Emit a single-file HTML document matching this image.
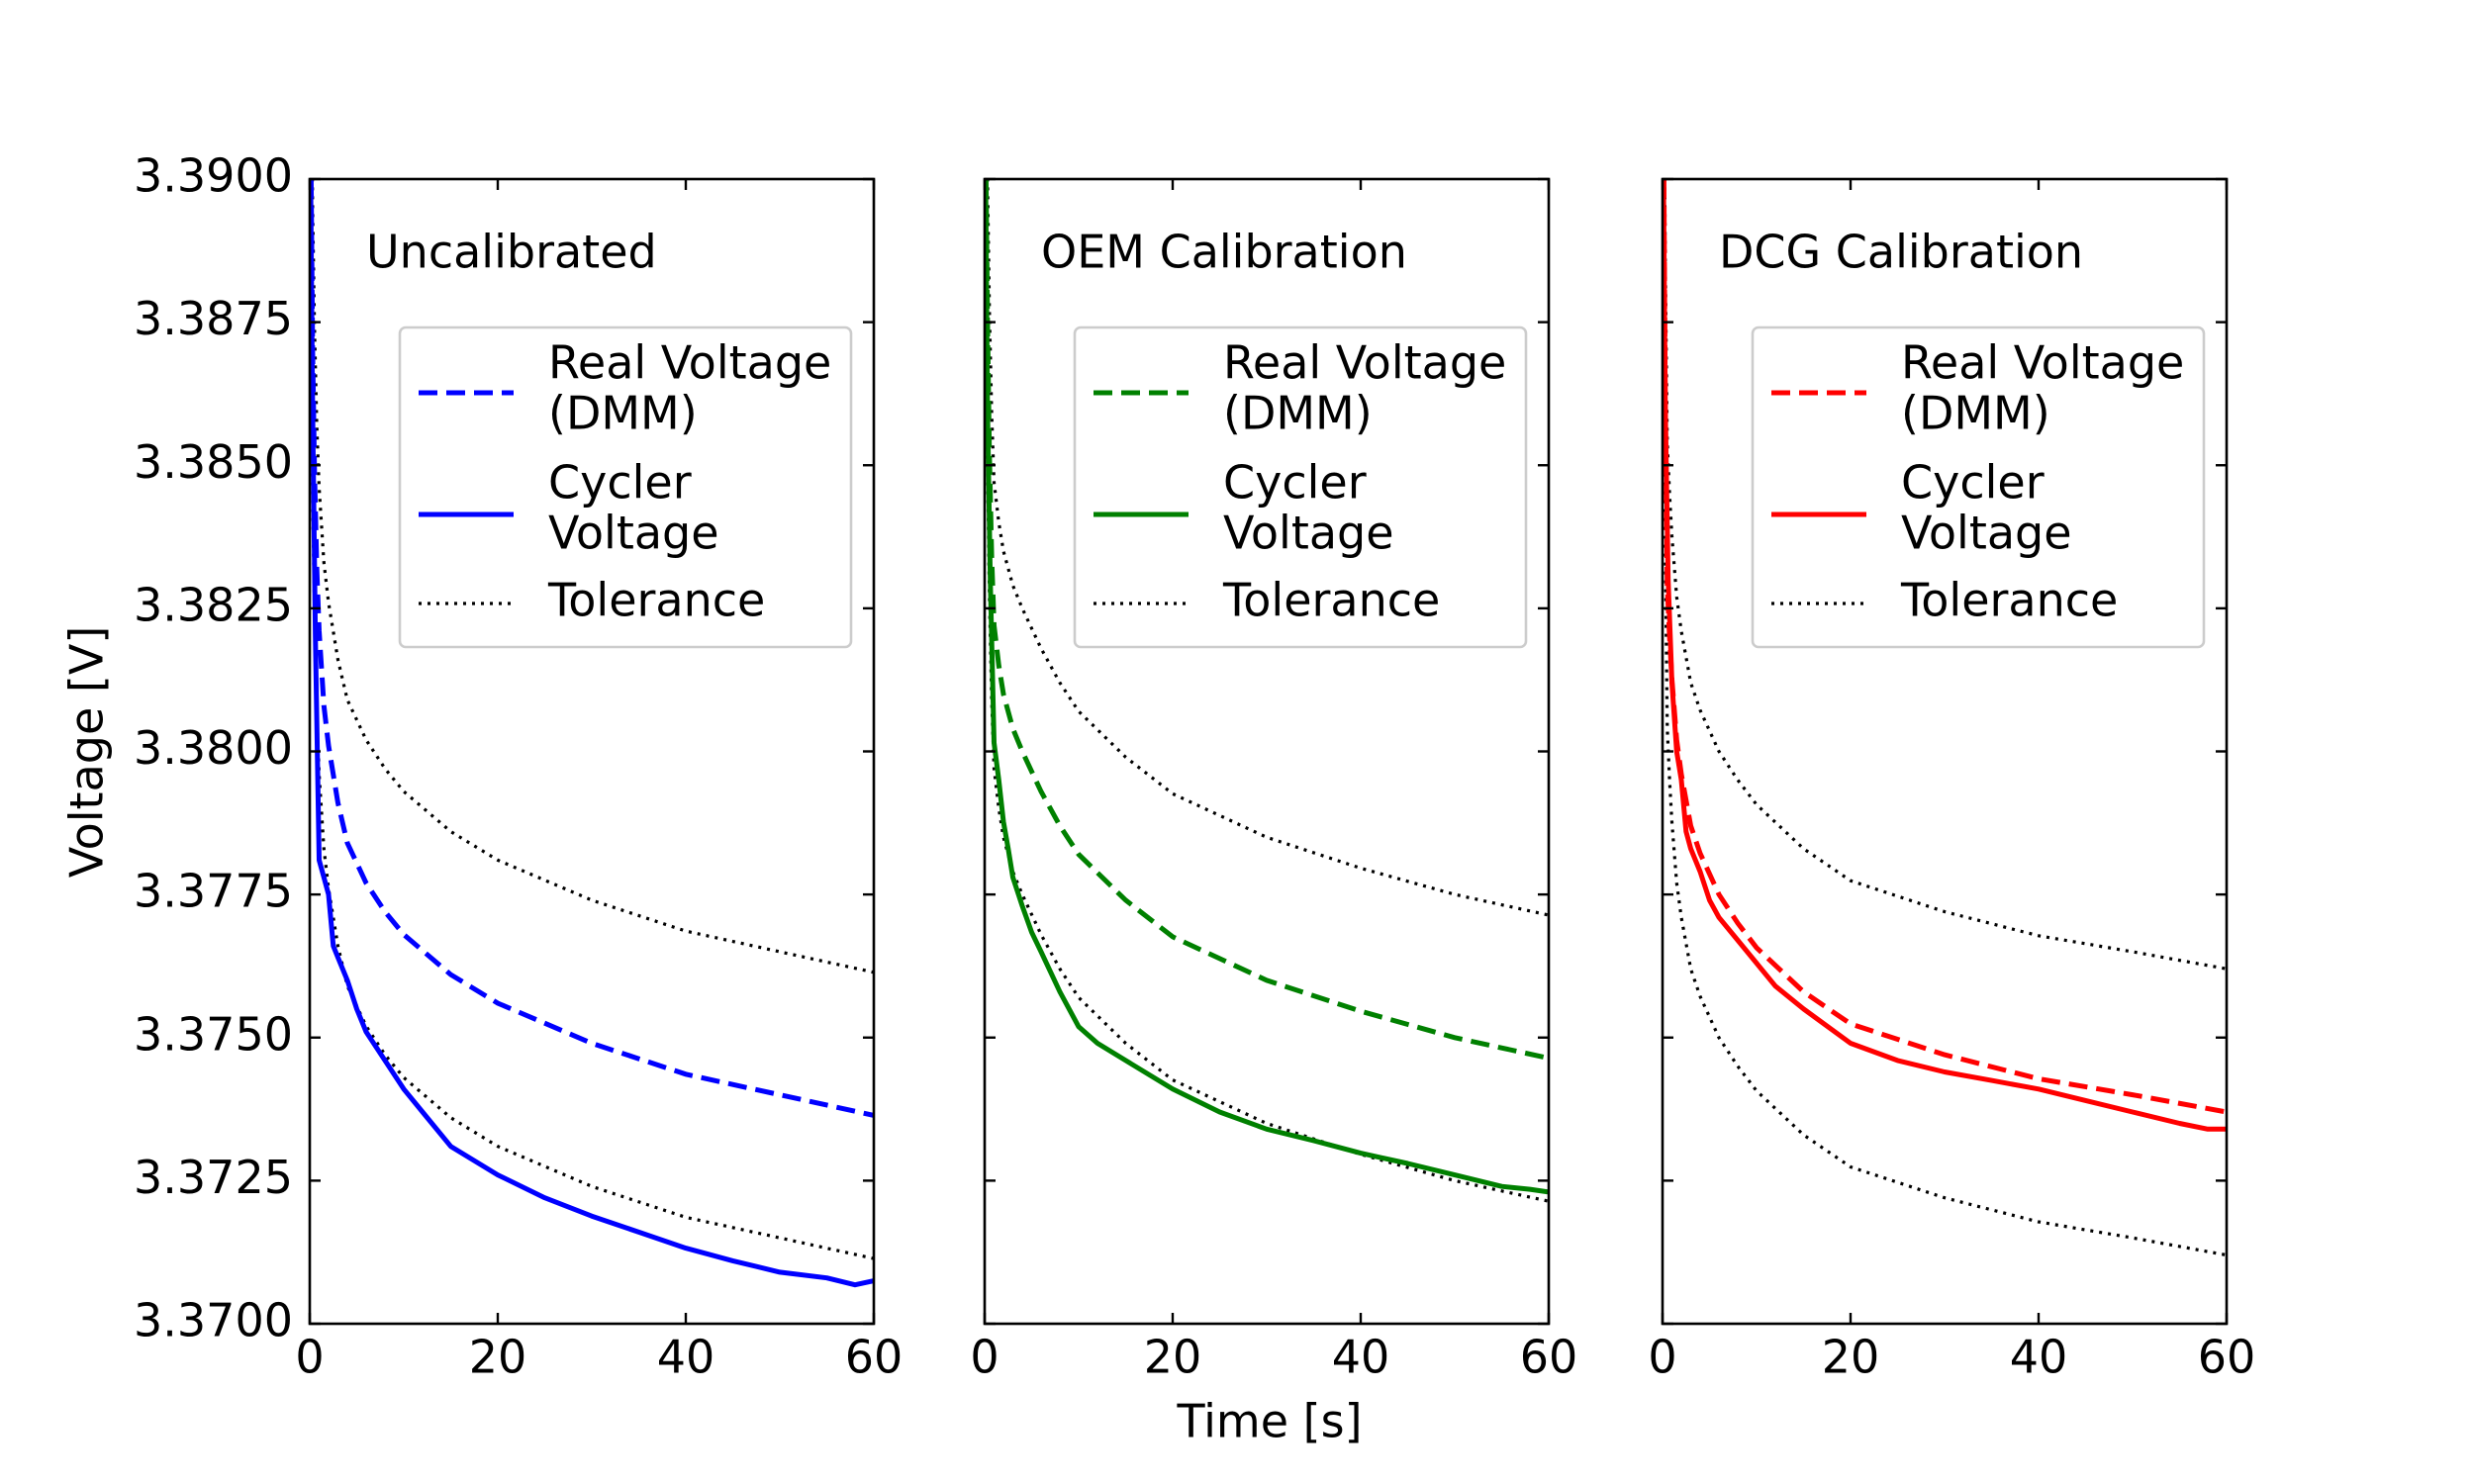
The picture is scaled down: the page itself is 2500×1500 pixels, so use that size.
<!DOCTYPE html>
<html><head><meta charset="utf-8">
<style>
html,body{margin:0;padding:0;background:#fff;}
svg{display:block;font-family:"DejaVu Sans","Liberation Sans",sans-serif;}
</style></head>
<body>
<svg id="chart" width="2500" height="1500" viewBox="0 0 2500 1500" xmlns="http://www.w3.org/2000/svg">
<rect width="2500" height="1500" fill="#fff"/>
<text x="0" y="0" transform="translate(91,760) rotate(-90)" font-size="46" text-anchor="middle" dominant-baseline="middle">Voltage [V]</text>
<text x="1283" y="1440" font-size="46" text-anchor="middle" dominant-baseline="middle">Time [s]</text>
</svg>
<script>
// ---- data ----
const panelTitles = ["Uncalibrated", "OEM Calibration", "DCG Calibration"];
const panelColors = ["#0000ff", "#008000", "#ff0000"];
const xTicks = [0, 20, 40, 60];
const yTicks = [3.3700, 3.3725, 3.3750, 3.3775, 3.3800, 3.3825, 3.3850, 3.3875, 3.3900];
const yTickLabels = ["3.3700","3.3725","3.3750","3.3775","3.3800","3.3825","3.3850","3.3875","3.3900"];

const dmmTime = [0.15,0.3,0.5,0.75,1,1.5,2,3,4,6,8,10,15,20,30,40,50,60];
const dmmUncal = [3.3900,3.3870,3.3849,3.3832,3.3821,3.3808,3.3801,3.3791,3.3784,3.3777,3.3772,3.3768,3.3761,3.3756,3.3749,3.37436,3.3740,3.37364];
const dmmOem   = [3.3900,3.3875,3.3852,3.3834,3.3822,3.3815,3.3810,3.3804,3.3800,3.3793,3.3787,3.3782,3.3774,3.37676,3.3760,3.37546,3.3750,3.37464];
const dmmDcg   = [3.3900,3.3860,3.3829,3.3820,3.38126,3.3802,3.3796,3.3787,3.37822,3.3775,3.3770,3.37657,3.3758,3.37524,3.3747,3.37428,3.3740,3.3737];

const tolUpperUncal = [3.3925,3.3895,3.3874,3.3857,3.3846,3.3833,3.3826,3.3816,3.3809,3.3802,3.3797,3.3793,3.3786,3.3781,3.3774,3.37686,3.3765,3.37614];
const tolLowerUncal = [3.3875,3.3845,3.3824,3.3807,3.3796,3.3783,3.3776,3.3766,3.3759,3.3752,3.3747,3.3743,3.3736,3.3731,3.3724,3.37186,3.3715,3.37114];
const tolUpperOem   = [3.3925,3.3900,3.3877,3.3859,3.3847,3.3840,3.3835,3.3829,3.3825,3.3818,3.3812,3.3807,3.3799,3.37926,3.3785,3.37796,3.3775,3.37714];
const tolLowerOem   = [3.3875,3.3850,3.3827,3.3809,3.3797,3.3790,3.3785,3.3779,3.3775,3.3768,3.3762,3.3757,3.3749,3.37426,3.3735,3.37296,3.3725,3.37214];
const tolUpperDcg   = [3.3925,3.3885,3.3854,3.3845,3.38376,3.3827,3.3821,3.3812,3.38072,3.3800,3.3795,3.37907,3.3783,3.37774,3.3772,3.37678,3.3765,3.3762];
const tolLowerDcg   = [3.3875,3.3835,3.3804,3.3795,3.37876,3.3777,3.3771,3.3762,3.37572,3.3750,3.3745,3.37407,3.3733,3.37274,3.3722,3.37178,3.3715,3.3712];

const cycTime = [0.1,0.3,0.6,1,1.5,2,2.5,3,4,5,6,8,10,12,15,20,25,30,35,40,45,50,55,58,60];
const cycUncal = [3.3900,3.3860,3.3820,3.3781,3.3778,3.3775,3.3766,3.3764,3.3760,3.3755,3.3751,3.3746,3.3741,3.3737,3.3731,3.3726,3.3722,3.37188,3.3716,3.37132,3.3711,3.3709,3.3708,3.37068,3.37075];
const cycOem   = [3.3900,3.3860,3.3830,3.38015,3.3795,3.37877,3.3783,3.3778,3.3773,3.37684,3.3765,3.3758,3.37519,3.3749,3.3746,3.3741,3.3737,3.3734,3.3732,3.37298,3.3728,3.3726,3.3724,3.37235,3.3723];
const cycDcg   = [3.3900,3.3860,3.3830,3.3812,3.3800,3.3795,3.3786,3.3783,3.3779,3.3774,3.3771,3.3767,3.3763,3.3759,3.3755,3.3749,3.3746,3.3744,3.37425,3.3741,3.3739,3.3737,3.3735,3.3734,3.3734];

const dmmSeries = [dmmUncal, dmmOem, dmmDcg];
const cycSeries = [cycUncal, cycOem, cycDcg];
const tolUpperSeries = [tolUpperUncal, tolUpperOem, tolUpperDcg];
const tolLowerSeries = [tolLowerUncal, tolLowerOem, tolLowerDcg];

// ---- layout ----
const svg = document.getElementById('chart');
const NS = 'http://www.w3.org/2000/svg';
const panelLeft = [313, 995, 1680];
const PW = 570, TOP = 181, BOTTOM = 1338;
const xMin = 0, xMax = 60, yMin = 3.370, yMax = 3.390;

function mk(tag, attrs, parent) {
  const e = document.createElementNS(NS, tag);
  for (const k in attrs) e.setAttribute(k, attrs[k]);
  (parent || svg).appendChild(e);
  return e;
}
function xScale(p, t) { return panelLeft[p] + (t - xMin) / (xMax - xMin) * PW; }
function yScale(v) { return BOTTOM - (v - yMin) / (yMax - yMin) * (BOTTOM - TOP); }
function pathFor(p, ts, vs) {
  let d = '';
  for (let i = 0; i < ts.length; i++) {
    d += (i ? 'L' : 'M') + xScale(p, ts[i]).toFixed(1) + ',' + yScale(vs[i]).toFixed(1);
  }
  return d;
}

for (let p = 0; p < 3; p++) {
  const L = panelLeft[p], R = L + PW;
  const g = mk('g', {});
  
  
  const cid = 'clip' + p;
  const cp = mk('clipPath', {id: cid}, g);
  mk('rect', {x: L, y: TOP, width: PW, height: BOTTOM - TOP}, cp);
  const plot = mk('g', {'clip-path': 'url(#' + cid + ')'}, g);

  const tu = mk('path', {d: pathFor(p, dmmTime, tolUpperSeries[p]), fill: 'none', stroke: '#000', 'stroke-width': 3.2, 'stroke-dasharray': '3 6'}, plot);
  
  
  const tl = mk('path', {d: pathFor(p, dmmTime, tolLowerSeries[p]), fill: 'none', stroke: '#000', 'stroke-width': 3.2, 'stroke-dasharray': '3 6'}, plot);
  
  
  const dm = mk('path', {d: pathFor(p, dmmTime, dmmSeries[p]), fill: 'none', stroke: panelColors[p], 'stroke-width': 5, 'stroke-dasharray': '19 9'}, plot);
  
  
  const cy = mk('path', {d: pathFor(p, cycTime, cycSeries[p]), fill: 'none', stroke: panelColors[p], 'stroke-width': 5, 'stroke-linejoin': 'round'}, plot);
  
  

  for (let i = 0; i < yTicks.length; i++) {
    const y = yScale(yTicks[i]);
    mk('line', {x1: L, x2: L + 11, y1: y, y2: y, stroke: '#000', 'stroke-width': 2.4}, g);
    mk('line', {x1: R - 11, x2: R, y1: y, y2: y, stroke: '#000', 'stroke-width': 2.4}, g);
    if (p === 0) {
      const t = mk('text', {x: 296, y: y, 'font-size': 46, 'text-anchor': 'end', 'dominant-baseline': 'middle'}, g);
      
      
      t.textContent = yTickLabels[i];
    }
  }
  for (let i = 0; i < xTicks.length; i++) {
    const x = xScale(p, xTicks[i]);
    mk('line', {x1: x, x2: x, y1: BOTTOM, y2: BOTTOM - 11, stroke: '#000', 'stroke-width': 2.4}, g);
    mk('line', {x1: x, x2: x, y1: TOP, y2: TOP + 11, stroke: '#000', 'stroke-width': 2.4}, g);
    const t = mk('text', {x: x, y: 1375, 'font-size': 46, 'text-anchor': 'middle', 'dominant-baseline': 'middle'}, g);
    
    
    t.textContent = String(xTicks[i]);
  }
  const fr = mk('rect', {x: L, y: TOP, width: PW, height: BOTTOM - TOP, fill: 'none', stroke: '#000', 'stroke-width': 2.6}, g);
  
  

  const title = mk('text', {x: L + 57, y: 258, 'font-size': 46, 'dominant-baseline': 'middle'}, g);
  
  
  title.textContent = panelTitles[p];

  const lg = mk('g', {}, g);
  
  
  const lx = L + 91;
  mk('rect', {x: lx, y: 331, width: 456, height: 323, rx: 6, fill: '#fff', 'fill-opacity': 0.85, stroke: '#cccccc', 'stroke-width': 2.6}, lg);
  mk('line', {x1: lx + 19, x2: lx + 115, y1: 397, y2: 397, stroke: panelColors[p], 'stroke-width': 5, 'stroke-dasharray': '19 9'}, lg);
  mk('line', {x1: lx + 19, x2: lx + 115, y1: 520, y2: 520, stroke: panelColors[p], 'stroke-width': 5}, lg);
  mk('line', {x1: lx + 19, x2: lx + 115, y1: 610, y2: 610, stroke: '#000', 'stroke-width': 3.2, 'stroke-dasharray': '3 6'}, lg);
  const labels = [["Real Voltage", 370], ["(DMM)", 421], ["Cycler", 491], ["Voltage", 542], ["Tolerance", 610]];
  const names = ['legend-real-voltage', 'legend-dmm', 'legend-cycler', 'legend-voltage', 'legend-tolerance'];
  for (let i = 0; i < labels.length; i++) {
    const t = mk('text', {x: lx + 150, y: labels[i][1], 'font-size': 46, 'dominant-baseline': 'middle'}, lg);
    
    
    t.textContent = labels[i][0];
  }
}
</script>
</body></html>
